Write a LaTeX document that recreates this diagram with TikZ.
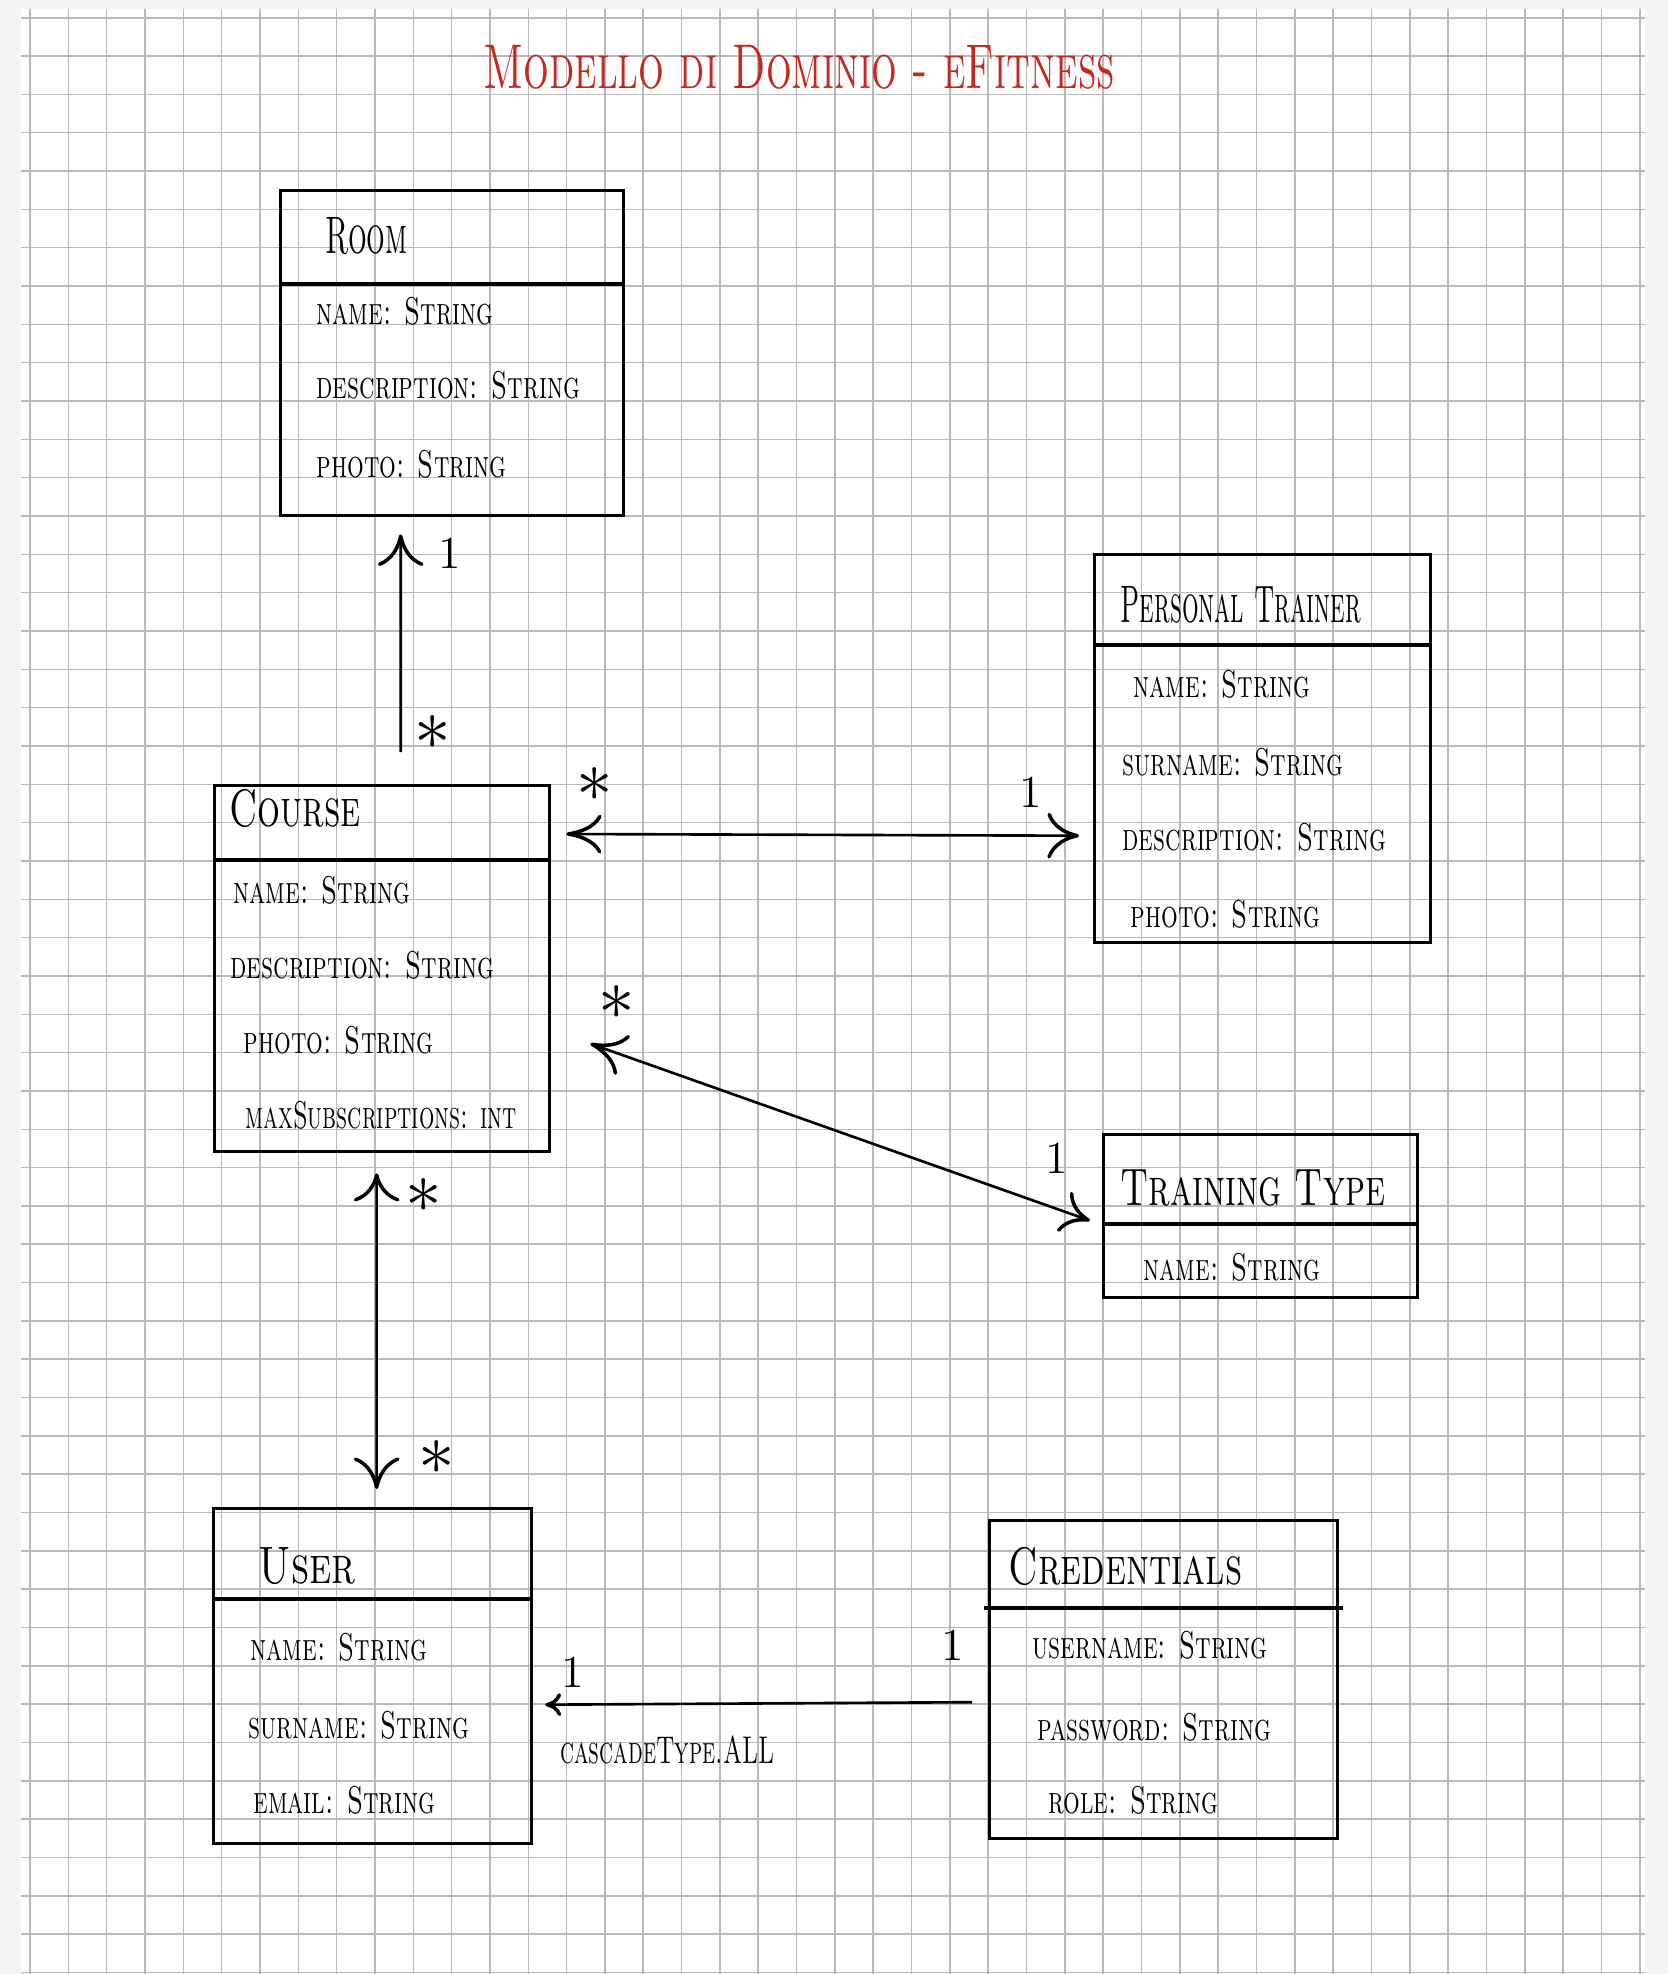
\documentclass[tikz,border=0pt]{standalone}
\usepackage{amsmath,amssymb}
\usepackage{tikz}
\usetikzlibrary{arrows.meta}

\definecolor{penred}{RGB}{198,40,30}
\definecolor{paper}{RGB}{244,244,244}

\tikzset{
  classbox/.style={draw, line width=0.9pt, anchor=north west, inner sep=0pt},
  clsname/.style={anchor=base west, inner sep=0pt, font=\fontsize{15}{15}\selectfont\scshape, xscale=0.62},
  attr/.style={anchor=base west, inner sep=0pt, font=\fontsize{11}{11}\selectfont\scshape, xscale=0.68},
  mult/.style={inner sep=0pt, font=\fontsize{13}{13}\selectfont},
  star/.style={inner sep=0pt, font=\fontsize{22}{22}\selectfont},
  assoc/.style={line width=0.75pt},
  gridline/.style={gray!55, line width=0.45pt}
}

\begin{document}
\begin{tikzpicture}[x=0.01cm,y=-0.01cm]
\useasboundingbox (0,0) rectangle (1668,1974);
\fill[paper] (0,0) rectangle (1668,1974);
\fill[white] (21,9) rectangle (1645,1974);
\foreach \i in {0,...,42}
  \draw[gridline] ({30+38.33*\i},9) -- ({30+38.33*\i},1974);
\foreach \j in {0,...,51}
  \draw[gridline] (21,{17.7+38.33*\j}) -- (1645,{17.7+38.33*\j});

\node[anchor=base west, inner sep=0pt, text=penred, font=\fontsize{18}{18}\selectfont\scshape, xscale=0.64] (title) at (483,88) {Modello di Dominio - eFitness};

% Room
\node[classbox, minimum width=3.43cm, minimum height=3.25cm] (room) at (279,189) {};
\draw[line width=0.9pt] (room.west |- 0,284) -- (room.east |- 0,284);
\node[clsname, xscale=0.9] (roomname) at (325,253) {Room};
\node[attr] (roomname1) at (316,324) {name: String};
\node[attr] (roomdesc) at (316,398) {description: String};
\node[attr] (roomphoto) at (316,477) {photo: String};

% Personal Trainer
\node[classbox, minimum width=3.36cm, minimum height=3.88cm] (trainer) at (1093,553) {};
\draw[line width=0.9pt] (trainer.west |- 0,645) -- (trainer.east |- 0,645);
\node[clsname, xscale=0.8] (trainername) at (1120,622) {Personal Trainer};
\node[attr] (trainername1) at (1133,697) {name: String};
\node[attr] (trainersurname) at (1122,775) {surname: String};
\node[attr] (trainerdesc) at (1122,850) {description: String};
\node[attr] (trainerphoto) at (1130,927) {photo: String};

% Course
\node[classbox, minimum width=3.35cm, minimum height=3.66cm] (course) at (213,784) {};
\draw[line width=0.9pt] (course.west |- 0,860) -- (course.east |- 0,860);
\node[clsname, xscale=1.1] (coursename) at (229,826) {Course};
\node[attr] (coursename1) at (233,903) {name: String};
\node[attr] (coursedesc) at (230,978) {description: String};
\node[attr] (coursephoto) at (243,1053) {photo: String};
\node[attr, xscale=0.92] (coursemax) at (245,1128) {maxSubscriptions: int};

% Training Type
\node[classbox, minimum width=3.14cm, minimum height=1.63cm] (ttype) at (1102,1133) {};
\draw[line width=0.9pt] (ttype.west |- 0,1224) -- (ttype.east |- 0,1224);
\node[clsname, xscale=1.1] (ttypename) at (1120,1205) {Training Type};
\node[attr] (ttypename1) at (1143,1280) {name: String};

% User
\node[classbox, minimum width=3.18cm, minimum height=3.35cm] (user) at (212,1507) {};
\draw[line width=0.9pt] (user.west |- 0,1599) -- (user.east |- 0,1599);
\node[clsname, xscale=1.22] (username) at (258,1583) {User};
\node[attr] (username1) at (250,1660) {name: String};
\node[attr] (usersurname) at (248,1738) {surname: String};
\node[attr] (useremail) at (253,1813) {email: String};

% Credentials
\node[classbox, minimum width=3.48cm, minimum height=3.18cm] (cred) at (988,1519) {};
\draw[line width=0.9pt] ([xshift=-1pt]cred.west |- 0,1608) -- ([xshift=1pt]cred.east |- 0,1608);
\node[clsname, xscale=1.15] (credname) at (1008,1584) {Credentials};
\node[attr] (creduser) at (1032,1658) {username: String};
\node[attr] (credpass) at (1037,1740) {password: String};
\node[attr] (credrole) at (1048,1813) {role: String};

% associations
\draw[assoc, -{Computer Modern Rightarrow[length=9pt,width=13pt,line width=1pt]}] ([shift={(18.5,-32)}]course.north) -- ([shift={(-51.5,17)}]room.south);
\node[mult] (m1) at (450,553) {1};
\node[star] (m2) at (433,733) {$\ast$};

\draw[assoc, {Computer Modern Rightarrow[length=10pt,width=11pt,line width=1pt]}-{Computer Modern Rightarrow[length=9pt,width=13pt,line width=1pt]}] ([shift={(15,50)}]course.north east) -- ([shift={(-14,87)}]trainer.west);
\node[star] (m3) at (595,785) {$\ast$};
\node[mult] (m4) at (1031,792) {1};

\draw[assoc, {Computer Modern Rightarrow[length=10pt,width=12pt,line width=1pt]}-{Computer Modern Rightarrow[length=8pt,width=12pt,line width=1pt]}] ([shift={(39,75)}]course.east) -- ([shift={(-12,4.5)}]ttype.west);
\node[star] (m5) at (617,1003) {$\ast$};
\node[mult] (m6) at (1057,1158) {1};

\draw[assoc, {Computer Modern Rightarrow[length=8pt,width=13pt,line width=1pt]}-{Computer Modern Rightarrow[length=9pt,width=13pt,line width=1pt]}] ([shift={(-5.5,20)}]course.south) -- ([shift={(4,-18)}]user.north);
\node[star] (m7) at (424,1196) {$\ast$};
\node[star] (m8) at (437,1458) {$\ast$};

\draw[assoc, -{Computer Modern Rightarrow[length=4.5pt,width=6.5pt,line width=1pt]}] ([shift={(-16,22.5)}]cred.west) -- ([shift={(12,28.5)}]user.east);
\node[mult] (m9) at (573,1672) {1};
\node[mult] (m10) at (953,1645) {1};
\node[attr, xscale=0.9] (cascade) at (560,1763) {cascadeType.ALL};
\end{tikzpicture}
\end{document}
